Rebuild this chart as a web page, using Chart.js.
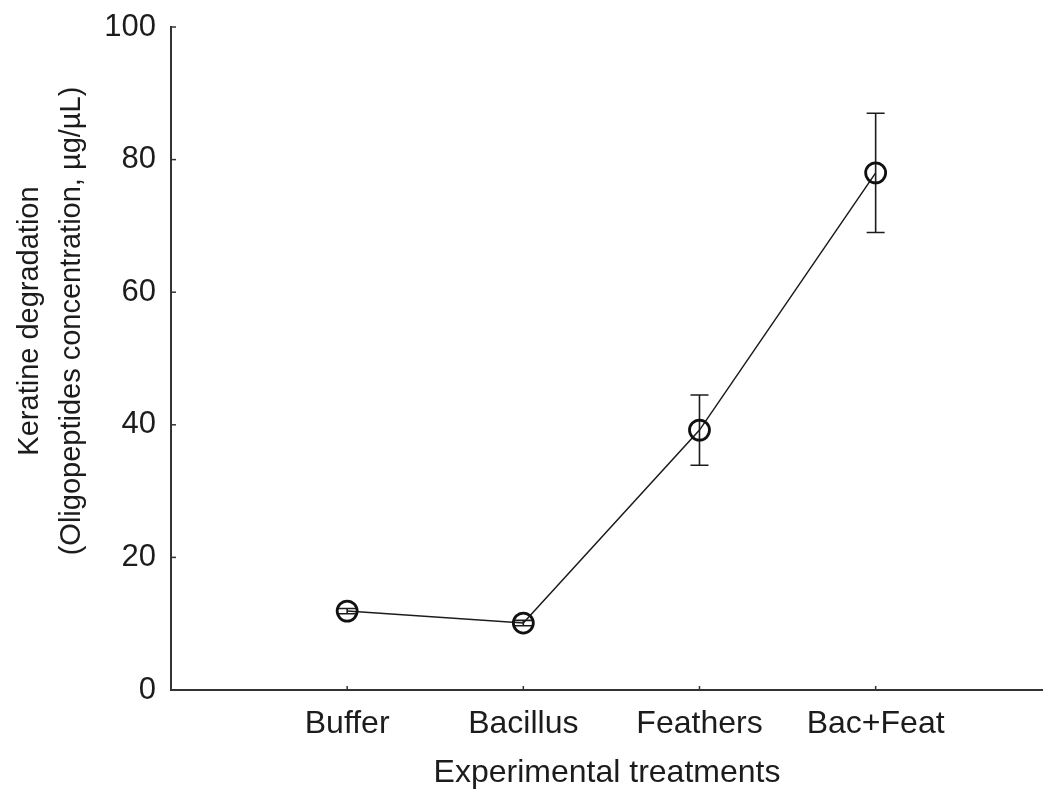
<!DOCTYPE html>
<html>
<head>
<meta charset="utf-8">
<script src="https://cdn.jsdelivr.net/npm/chart.js@4.4.1/dist/chart.umd.min.js"></script>
<style>
  html, body { margin: 0; padding: 0; background: #ffffff; overflow: hidden; }
  #wrap { width: 1043px; height: 792px; }
</style>
</head>
<body>
<div id="wrap"><canvas id="chart" width="1043" height="792"></canvas></div>
<script>
// Treatments on the x axis
const treatments = ['Buffer', 'Bacillus', 'Feathers', 'Bac+Feat'];
// Mean oligopeptide concentration (µg/µL) per treatment
const meanConc = [11.9, 10.1, 39.2, 78.0];
// Error half-width for each mean (µg/µL)
const errConc = [0.4, 0.4, 5.3, 9.0];
// Y axis tick values
const yTicks = [0, 20, 40, 60, 80, 100];
// Axis titles
const xTitle = 'Experimental treatments';
const yTitleLines = ['Keratine degradation', '(Oligopeptides concentration, \u00b5g/\u00b5L)'];

const FONT = "'Liberation Sans', Arial, Helvetica, sans-serif";
const INK = '#1c1c1c';

// Error bars, inward tick marks and the rotated y-axis title
const errorBarsPlugin = {
  id: 'errorBars',
  beforeDatasetsDraw(chart) {
    const { ctx, scales: { x, y } } = chart;
    ctx.save();
    ctx.strokeStyle = INK;
    ctx.lineWidth = 1.6;
    meanConc.forEach((m, i) => {
      const px = x.getPixelForValue(i);
      const top = y.getPixelForValue(m + errConc[i]);
      const bot = y.getPixelForValue(m - errConc[i]);
      ctx.beginPath();
      ctx.moveTo(px, top); ctx.lineTo(px, bot);
      ctx.moveTo(px - 9, top); ctx.lineTo(px + 9, top);
      ctx.moveTo(px - 9, bot); ctx.lineTo(px + 9, bot);
      ctx.stroke();
    });
    ctx.restore();
  },
  afterDraw(chart) {
    const { ctx, chartArea, scales: { x, y } } = chart;
    ctx.save();
    ctx.strokeStyle = '#333333';
    ctx.lineWidth = 1.5;
    y.ticks.forEach(t => {
      const py = y.getPixelForValue(t.value);
      ctx.beginPath();
      ctx.moveTo(chartArea.left, py);
      ctx.lineTo(chartArea.left + 5, py);
      ctx.stroke();
    });
    x.ticks.forEach(t => {
      const px = x.getPixelForValue(t.value);
      ctx.beginPath();
      ctx.moveTo(px, chartArea.bottom);
      ctx.lineTo(px, chartArea.bottom - 4);
      ctx.stroke();
    });
    // y-axis title, two rotated lines
    ctx.fillStyle = INK;
    ctx.font = '29px ' + FONT;
    ctx.textAlign = 'center';
    ctx.textBaseline = 'middle';
    const cy = 321;
    const cols = [30, 72];
    yTitleLines.forEach((line, k) => {
      ctx.save();
      ctx.translate(cols[k], cy);
      ctx.rotate(-Math.PI / 2);
      ctx.fillText(line, 0, 0);
      ctx.restore();
    });
    ctx.restore();
  }
};

new Chart(document.getElementById('chart'), {
  type: 'line',
  data: {
    datasets: [{
      data: meanConc.map((v, i) => ({ x: i, y: v })),
      borderColor: INK,
      borderWidth: 1.5,
      pointRadius: 10,
      pointHoverRadius: 10,
      pointBorderWidth: 2.8,
      pointBorderColor: '#111111',
      pointBackgroundColor: 'rgba(0,0,0,0)',
      tension: 0,
      fill: false
    }]
  },
  options: {
    responsive: false,
    animation: false,
    devicePixelRatio: 1,
    layout: { autoPadding: false, padding: { left: 0, right: 0, top: 27, bottom: 0 } },
    plugins: { legend: { display: false }, tooltip: { enabled: false } },
    scales: {
      x: {
        type: 'linear',
        min: -1,
        max: 3.95,
        grid: { display: false },
        border: { display: true, color: '#333333', width: 2 },
        afterBuildTicks(scale) {
          scale.ticks = treatments.map((_, i) => ({ value: i }));
        },
        afterFit(scale) {
          scale.height = 102;
          scale.paddingLeft = 0;
          scale.paddingRight = 0;
        },
        ticks: {
          autoSkip: false,
          maxRotation: 0,
          padding: 7,
          color: INK,
          font: { family: FONT, size: 32 },
          callback: (v) => treatments[v] ?? ''
        },
        title: {
          display: true,
          text: xTitle,
          color: INK,
          font: { family: FONT, size: 32 },
          padding: { top: 0, bottom: 0 }
        }
      },
      y: {
        min: 0,
        max: 100,
        grid: { display: false },
        border: { display: true, color: '#333333', width: 2 },
        afterBuildTicks(scale) {
          scale.ticks = yTicks.map(v => ({ value: v }));
        },
        afterFit(scale) {
          scale.width = 171;
          scale.paddingTop = 0;
          scale.paddingBottom = 0;
        },
        ticks: {
          padding: 7,
          color: INK,
          font: { family: FONT, size: 31 }
        }
      }
    }
  },
  plugins: [errorBarsPlugin]
});
</script>
</body>
</html>
